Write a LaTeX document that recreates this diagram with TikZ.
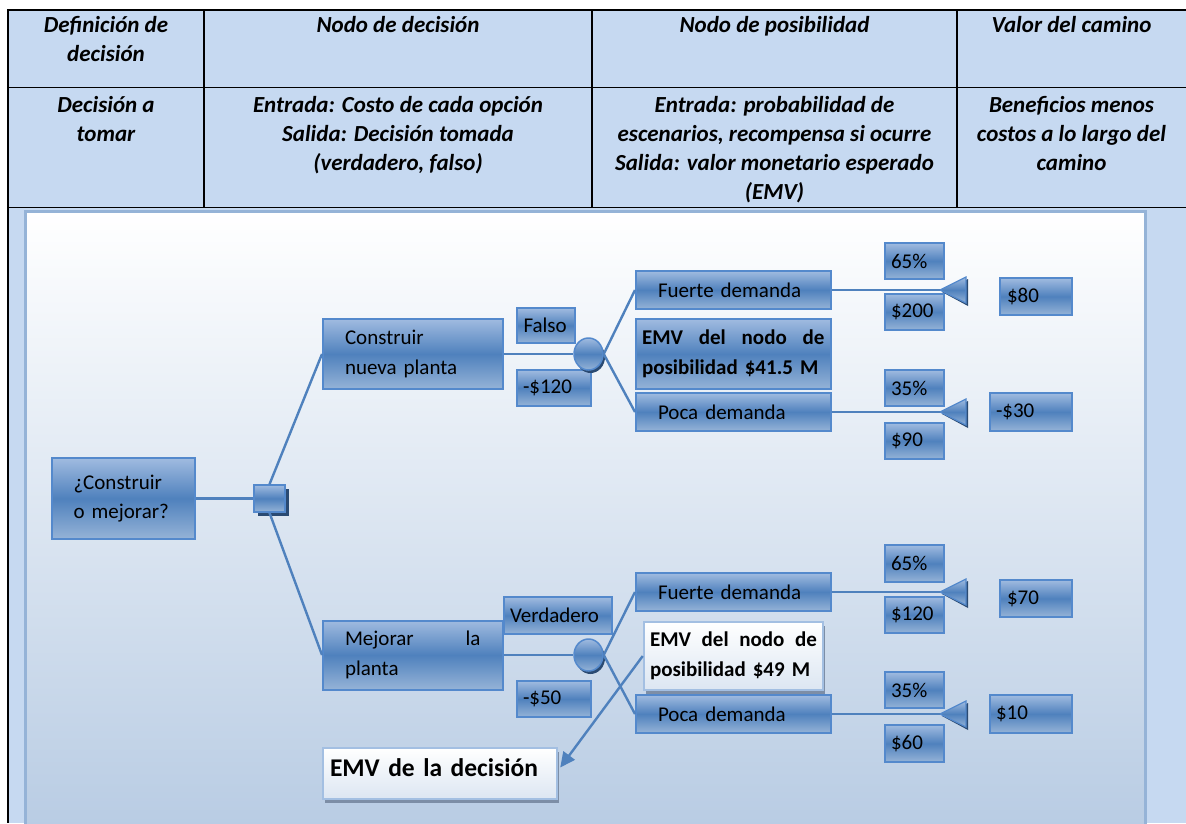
\documentclass[tikz,border=0pt]{standalone}
\usepackage{fontspec}
\setmainfont{Carlito}
\usetikzlibrary{shapes.geometric,arrows.meta,shadows,calc}

\definecolor{hdrblue}{HTML}{C6D9F1}
\definecolor{panelline}{HTML}{95B3D7}
\definecolor{panelbot}{HTML}{B7CBE3}
\definecolor{boxtop}{HTML}{A0BBE0}
\definecolor{boxmid}{HTML}{4F81BD}
\definecolor{boxbot}{HTML}{95B3D7}
\definecolor{boxedge}{HTML}{5489CC}
\definecolor{linkblue}{HTML}{4F81BD}
\definecolor{navyshadow}{HTML}{2A4A72}
\definecolor{greyshadow}{HTML}{7D8EA6}
\definecolor{whitebot}{HTML}{DCE6F2}
\definecolor{whiteedge}{HTML}{A3BFE2}

\newcommand{\bodyfont}{\fontsize{21}{29.5}\selectfont}
\newcommand{\hdrfont}{\fontsize{23}{29}\selectfont\bfseries\itshape}
\newcommand{\firstline}{\rule{0pt}{20pt}}

\begin{document}
\begin{tikzpicture}[x=1pt,y=-1pt,
  hdr/.style={anchor=north, inner sep=0pt, align=center, font=\hdrfont},
  blk/.style={draw=boxedge, line width=2pt, top color=boxtop, bottom color=boxbot,
    middle color=boxmid, inner ysep=0pt, align=left, font=\bodyfont, text=black},
  wbox/.style={draw=whiteedge, line width=2.5pt, top color=white, bottom color=whitebot,
    inner ysep=0pt, align=left, text=black,
    drop shadow={shadow xshift=2pt, shadow yshift=-4pt, opacity=1, fill=greyshadow}},
  sz/.style n args={4}{minimum width=#1, minimum height=#2, inner xsep=#3, text width=#4},
  chance/.style={ellipse, draw=boxedge, line width=1.5pt, top color=boxtop, bottom color=boxbot,
    middle color=boxmid, inner sep=0pt, minimum width=29, minimum height=32,
    drop shadow={shadow xshift=2pt, shadow yshift=-3pt, opacity=1, fill=navyshadow}},
  decide/.style={rectangle, draw=boxedge, line width=1.5pt, top color=boxtop, bottom color=boxbot,
    middle color=boxmid, inner sep=0pt, minimum width=31, minimum height=27,
    drop shadow={shadow xshift=4pt, shadow yshift=-4pt, opacity=1, fill=navyshadow}},
  conn/.style={draw=linkblue, line width=2.4pt},
  endtri/.style={draw=boxedge, line width=1.2pt, top color=boxtop, bottom color=boxbot, middle color=boxmid},
  endshadow/.style={fill=navyshadow}
]
\useasboundingbox (0,0) rectangle (1186,823);

% table and panel backgrounds
\fill[hdrblue] (8,10) rectangle (1186,823);
\draw[panelline, line width=3pt, top color=white, bottom color=panelbot] (25,211) rectangle (1145,840);

% table rules
\draw[black, line width=1.6pt] (8,87.5) -- (1186,87.5) (8,207.5) -- (1186,207.5)
  (204,10) -- (204,207.5) (592,10) -- (592,207.5) (957,10) -- (957,207.5);
\draw[black, line width=2.6pt] (1186,10) -- (8,10) -- (8,823);

% header row
\node[hdr] (h11) at (106,12) {\firstline Definición de\\decisión};
\node[hdr] (h12) at (398,12) {\firstline Nodo de decisión};
\node[hdr] (h13) at (774.5,12) {\firstline Nodo de posibilidad};
\node[hdr] (h14) at (1071.5,12) {\firstline Valor del camino};
% second row
\node[hdr] (h21) at (106,92) {\firstline Decisión a\\tomar};
\node[hdr] (h22) at (398,92) {\firstline Entrada: Costo de cada opción\\Salida: Decisión tomada\\(verdadero, falso)};
\node[hdr] (h23) at (774.5,92) {\firstline Entrada: probabilidad de\\escenarios, recompensa si ocurre\\Salida: valor monetario esperado\\(EMV)};
\node[hdr] (h24) at (1071.5,92) {\firstline Beneficios menos\\costos a lo largo del\\camino};

% decision and chance nodes
\node[blk, sz={143}{81}{21.5}{100}] (q) at (123.5,498.5) {¿Construir\\o mejorar?};
\node[decide] (sq) at (269.5,498.5) {};
\node[blk, sz={179.5}{70}{22}{135.5}] (c1) at (412.75,354) {Construir\\nueva planta};
\node[blk, sz={179.5}{69}{22}{135.5}] (m1) at (412.75,655) {Mejorar\hfill la\\planta};
\node[blk, sz={58}{35}{6.5}{45}] (falso) at (546,325.5) {Falso};
\node[blk, sz={74}{36}{6}{62}] (cost1) at (554,388) {-\$120};
\node[blk, sz={108}{37}{6.5}{95}] (verd) at (557.5,615.5) {Verdadero};
\node[blk, sz={74}{36}{6}{62}] (cost2) at (554,699) {-\$50};
\node[chance] (ch1) at (588.5,354) {};
\node[chance] (ch2) at (588.5,655) {};

% upper branch outcomes
\node[blk, sz={194.5}{38}{22}{150.5}] (fd1) at (733.25,290) {Fuerte demanda};
\node[blk, sz={194.5}{70}{6}{182.5}, font=\bodyfont\bfseries] (emv1) at (733.25,354)
  {EMV\hfill del\hfill nodo\hfill de\\posibilidad \$41.5 M};
\node[blk, sz={194.5}{38}{22}{150.5}] (pd1) at (733.25,412) {Poca demanda};
\node[blk, sz={59}{36}{6}{47}] (p65a) at (914.5,261) {65\%};
\node[blk, sz={59}{36}{6}{47}] (v200) at (914.5,312) {\$200};
\node[blk, sz={59}{36}{6}{47}] (p35a) at (914.5,388) {35\%};
\node[blk, sz={59}{36}{6}{47}] (v90) at (914.5,441) {\$90};
\node[blk, sz={72}{37}{7}{58}] (r80) at (1036,296.5) {\$80};
\node[blk, sz={82}{38}{6}{70}] (rm30) at (1031,412) {-\$30};

% lower branch outcomes
\node[blk, sz={194.5}{38}{22}{150.5}] (fd2) at (733.25,592) {Fuerte demanda};
\node[wbox, sz={179}{68}{6}{167}, font=\bodyfont\bfseries] (emv2) at (733.5,656)
  {EMV\hfill del\hfill nodo\hfill de\\posibilidad \$49 M};
\node[blk, sz={194.5}{38}{22}{150.5}] (pd2) at (733.25,714) {Poca demanda};
\node[blk, sz={59}{37}{6}{47}] (p65b) at (914.5,563.5) {65\%};
\node[blk, sz={59}{36}{6}{47}] (v120) at (914.5,615) {\$120};
\node[blk, sz={59}{36}{6}{47}] (p35b) at (914.5,690) {35\%};
\node[blk, sz={59}{37}{6}{47}] (v60) at (914.5,743.5) {\$60};
\node[blk, sz={72}{37}{7}{58}] (r70) at (1036,598.5) {\$70};
\node[blk, sz={82}{38}{6}{70}] (r10) at (1031,714) {\$10};

% decision value box
\node[wbox, sz={234}{51}{7}{220}, font=\fontsize{25.5}{30}\selectfont\bfseries,
  text depth=12pt] (emvd) at (440,773.5) {EMV de la decisión};

% end-of-path triangles
\foreach \name/\ty in {t1/290, t2/412, t3/592, t4/714}{
  \coordinate (\name) at (940,\ty);
  \fill[endshadow] (942,\ty+2) -- (968,\ty-11) -- (968,\ty+16) -- cycle;
  \draw[endtri] (\name) -- (966,\ty-13) -- (966,\ty+13) -- cycle;
}

% connectors
\draw[conn] (q.east) -- (sq.west);
\draw[conn] (sq.north) -- (c1.west);
\draw[conn] (sq.south) -- (m1.west);
\draw[conn] (c1.east) -- (ch1.west);
\draw[conn] (m1.east) -- (ch2.west);
\draw[conn] (ch1.east) -- (fd1.west);
\draw[conn] (ch1.east) -- (pd1.west);
\draw[conn] (ch2.east) -- (fd2.west);
\draw[conn] (ch2.east) -- (pd2.west);
\draw[conn] (fd1.east) -- (t1);
\draw[conn] (pd1.east) -- (t2);
\draw[conn] (fd2.east) -- (t3);
\draw[conn] (pd2.east) -- (t4);
\draw[conn, -{Triangle[length=15pt,width=14pt]}] (emv2.west) -- ([xshift=2pt,yshift=6pt]emvd.east);
\end{tikzpicture}
\end{document}
